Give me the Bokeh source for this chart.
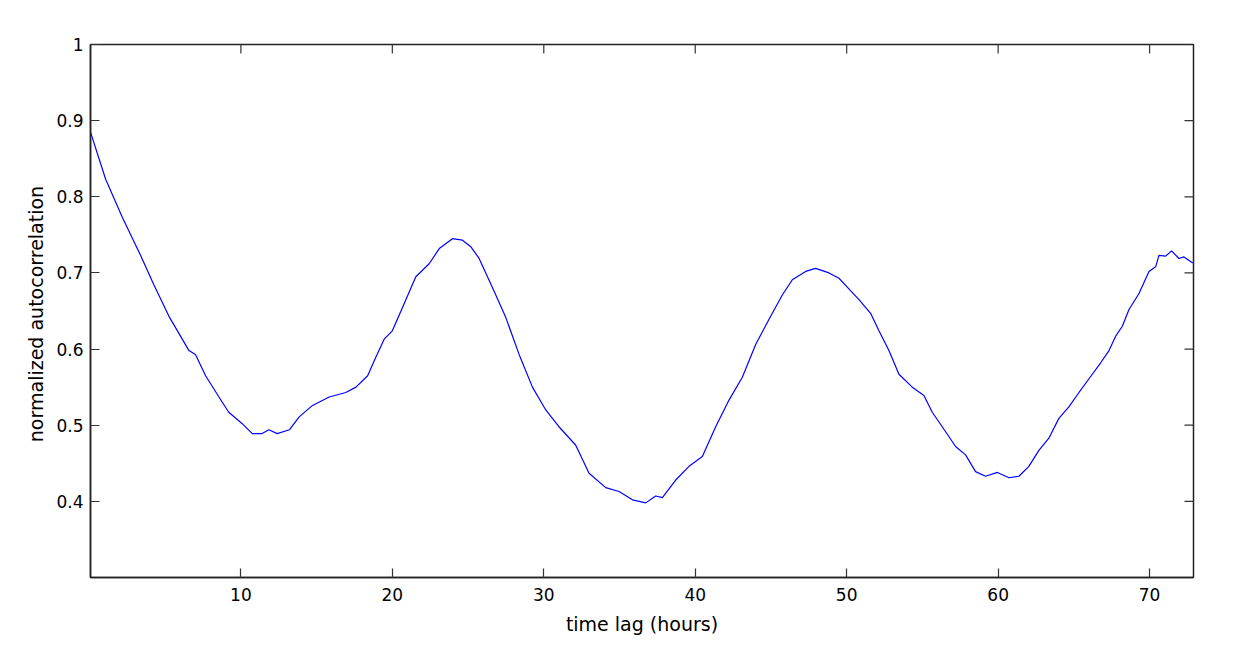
import math
from bokeh.plotting import figure
from bokeh.models import FixedTicker, Range1d
from bokeh.embed import file_html
from bokeh.resources import INLINE

# time lag (hours) and normalized autocorrelation
time_lag = [0.07, 1.07, 2.17, 3.38, 4.26, 5.25, 6.13, 6.57, 7.0, 7.67, 8.55, 9.2,
            10.09, 10.75, 11.4, 11.85, 12.4, 13.2, 13.85, 14.73, 15.83, 16.93, 17.6,
            18.37, 18.9, 19.46, 20.0, 20.7, 21.55, 22.43, 23.1, 23.97, 24.63, 25.2,
            25.73, 26.72, 27.5, 28.37, 29.25, 30.13, 31.0, 32.1, 32.99, 34.09, 34.97,
            35.85, 36.73, 37.39, 37.83, 38.71, 39.59, 40.47, 41.35, 42.23, 43.11,
            43.99, 44.98, 45.75, 46.41, 47.29, 47.95, 48.83, 49.49, 50.1, 50.81,
            51.58, 52.13, 52.79, 53.45, 54.33, 55.1, 55.65, 56.31, 57.19, 57.85,
            58.51, 59.17, 59.95, 60.72, 61.37, 62.03, 62.69, 63.35, 64.01, 64.67,
            65.34, 66.0, 66.77, 67.32, 67.76, 68.2, 68.64, 69.3, 69.96, 70.4, 70.62,
            71.06, 71.45, 71.94, 72.27, 72.85]
autocorr = [0.885, 0.823, 0.773, 0.723, 0.684, 0.643, 0.613, 0.598, 0.593, 0.565,
            0.537, 0.517, 0.502, 0.489, 0.489, 0.494, 0.489, 0.494, 0.511, 0.526,
            0.537, 0.543, 0.550, 0.565, 0.589, 0.613, 0.624, 0.656, 0.695, 0.712,
            0.732, 0.745, 0.743, 0.734, 0.719, 0.676, 0.641, 0.593, 0.550, 0.520,
            0.498, 0.474, 0.437, 0.418, 0.413, 0.402, 0.398, 0.407, 0.405, 0.428,
            0.446, 0.459, 0.498, 0.533, 0.563, 0.606, 0.643, 0.671, 0.691, 0.702,
            0.706, 0.700, 0.693, 0.680, 0.665, 0.647, 0.624, 0.598, 0.567, 0.550,
            0.539, 0.517, 0.498, 0.472, 0.461, 0.439, 0.433, 0.438, 0.431, 0.433,
            0.446, 0.467, 0.483, 0.509, 0.524, 0.543, 0.561, 0.582, 0.598, 0.617,
            0.630, 0.652, 0.673, 0.702, 0.708, 0.723, 0.722, 0.729, 0.719, 0.721,
            0.713]

x_ticks = [10, 20, 30, 40, 50, 60, 70]
y_ticks = [0.4, 0.5, 0.6, 0.7, 0.8, 0.9, 1.0]
y_tick_labels = ["0.4", "0.5", "0.6", "0.7", "0.8", "0.9", "1"]
x_label = "time lag (hours)"
y_label = "normalized  autocorrelation"

X_MIN, X_MAX = 0.07, 72.9
Y_MIN, Y_MAX = 0.3, 1.0

FONT = "DejaVu Sans"
AXIS_COLOR = "#222222"
TICK_COLOR = "#333333"

p = figure(frame_width=1103, frame_height=533,
           x_range=Range1d(X_MIN, X_MAX), y_range=Range1d(Y_MIN, Y_MAX),
           output_backend="svg", toolbar_location=None,
           min_border_left=90, min_border_top=44, min_border_right=24,
           min_border_bottom=10, x_axis_label=x_label, y_axis_label=y_label)
p.grid.visible = False
p.outline_line_color = AXIS_COLOR
p.outline_line_width = 1.5
p.background_fill_color = "white"
p.border_fill_color = "white"

p.line(time_lag, autocorr, line_color="#0000ff", line_width=1.2)

# inward ticks on the top and right edges (half of each dash is clipped by the frame)
p.scatter(x=x_ticks, y=[Y_MAX] * len(x_ticks), marker="dash", size=18,
          angle=math.pi / 2, line_color=TICK_COLOR, line_width=1.2)
p.scatter(x=[X_MAX] * len(y_ticks), y=y_ticks, marker="dash", size=18,
          line_color=TICK_COLOR, line_width=1.2)

for ax in (p.xaxis[0], p.yaxis[0]):
    ax.major_tick_in = 9
    ax.major_tick_out = 0
    ax.minor_tick_line_color = None
    ax.axis_line_color = AXIS_COLOR
    ax.axis_line_width = 1.5
    ax.major_tick_line_color = TICK_COLOR
    ax.major_tick_line_width = 1.2
    ax.major_label_text_font = FONT
    ax.major_label_text_font_size = "17px"
    ax.major_label_text_color = "black"
    ax.axis_label_text_font = FONT
    ax.axis_label_text_font_size = "19px"
    ax.axis_label_text_font_style = "normal"
    ax.axis_label_text_color = "black"

p.xaxis.ticker = FixedTicker(ticks=x_ticks)
p.yaxis.ticker = FixedTicker(ticks=y_ticks)
p.yaxis.major_label_overrides = dict(zip(y_ticks, y_tick_labels))
p.xaxis.major_label_standoff = 10
p.xaxis.axis_label_standoff = 9
p.yaxis.major_label_standoff = 7
p.yaxis.axis_label_standoff = 6

open("out.html", "w").write(file_html(p, INLINE))
